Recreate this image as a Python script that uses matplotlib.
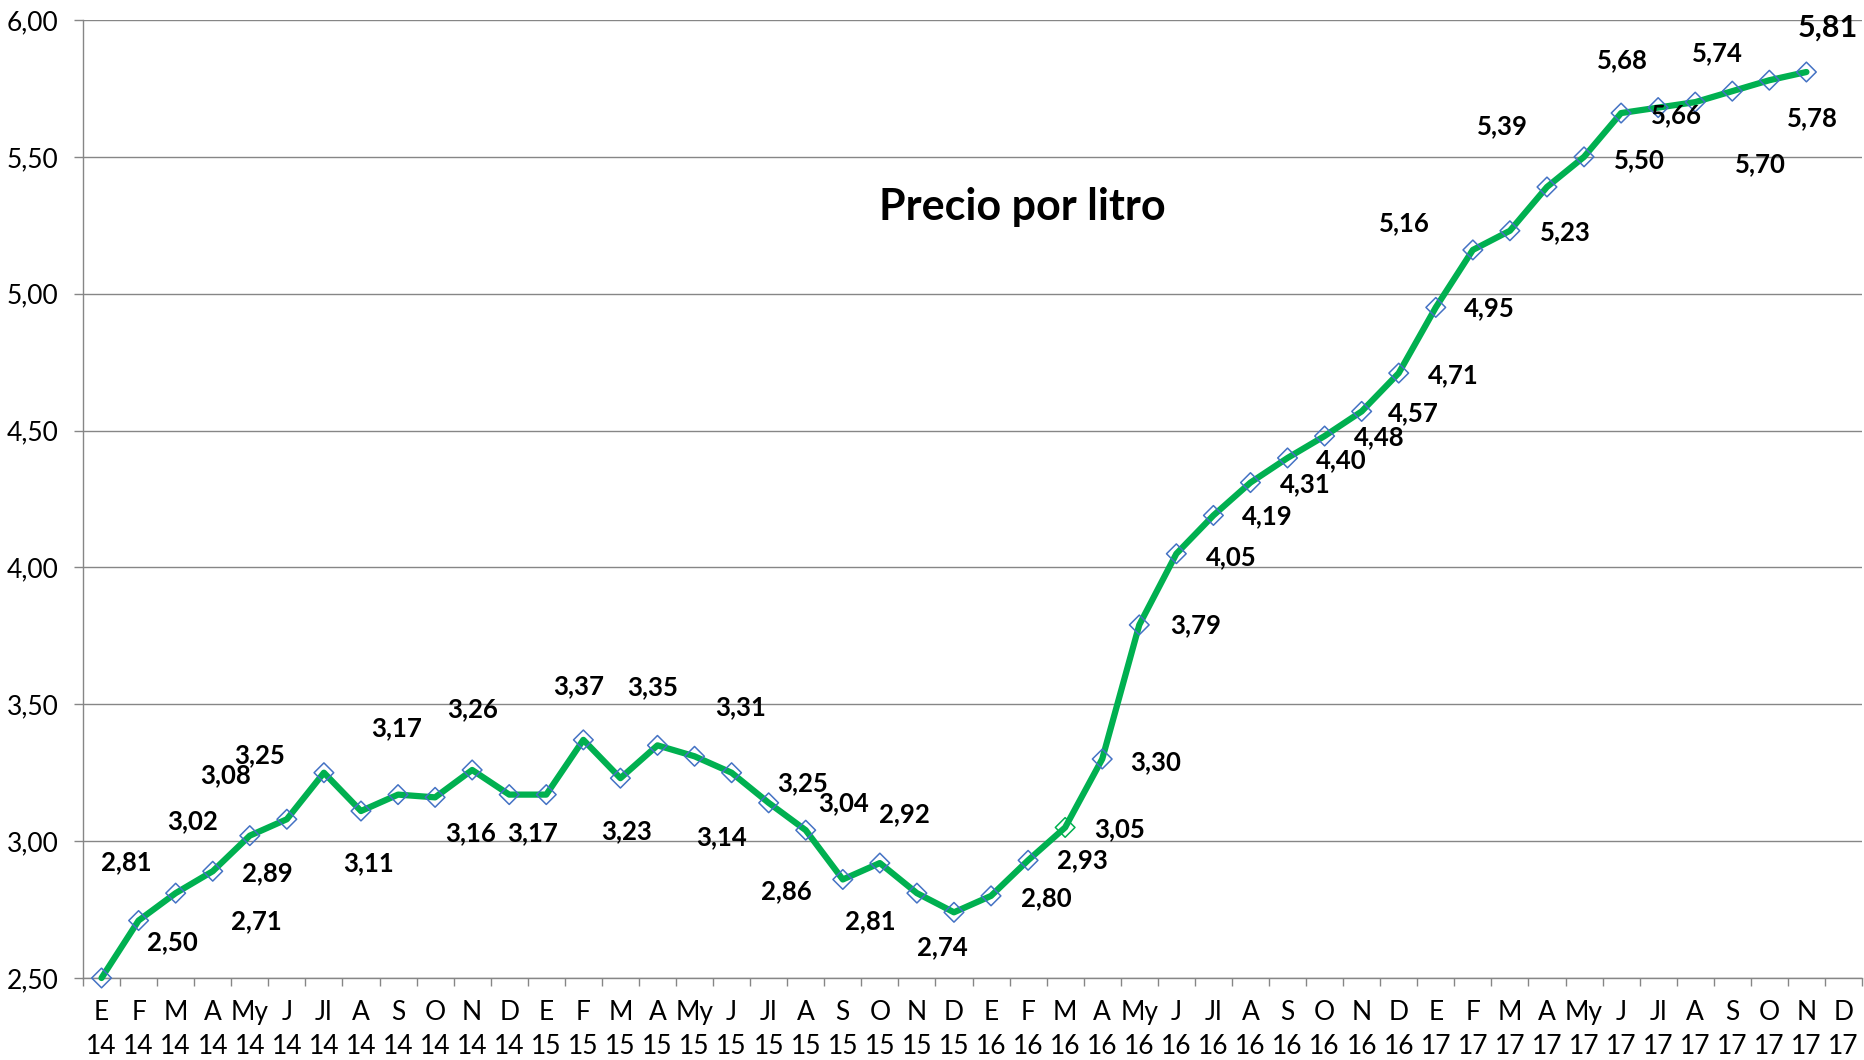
import matplotlib
matplotlib.use('Agg')
import matplotlib.pyplot as plt
import numpy as np

plt.rcParams['font.family'] = ['Lato', 'DejaVu Sans']

# data
months = ['E', 'F', 'M', 'A', 'My', 'J', 'Jl', 'A', 'S', 'O', 'N', 'D']
years = ['14', '15', '16', '17']
precio = [2.50, 2.71, 2.81, 2.89, 3.02, 3.08, 3.25, 3.11, 3.17, 3.16, 3.26, 3.17,
          3.17, 3.37, 3.23, 3.35, 3.31, 3.25, 3.14, 3.04, 2.86, 2.92, 2.81, 2.74,
          2.80, 2.93, 3.05, 3.30, 3.79, 4.05, 4.19, 4.31, 4.40, 4.48, 4.57, 4.71,
          4.95, 5.16, 5.23, 5.39, 5.50, 5.66, 5.68, 5.70, 5.74, 5.78, 5.81]
titulo = 'Precio por litro'

# where each value label sits relative to its point (pixels, y down); None = no label
label_off = [(71, -36), (118, 1), (-49, -31), (55, 2), (-57, -15), (-61, -44),
             (-64, -18), (8, 52), (-1, -66), (36, 36), (0, -61), (23, 39),
             None, (-5, -54), (6, 53), (-5, -58), (46, -49), (71, 10),
             (-47, 34), (38, -27), (-56, 12), (25, -49), (-47, 28), (-12, 35),
             (55, 2), (54, 0), (54, 2), (53, 3), (56, 0), (55, 3),
             (54, 1), (55, 2), (54, 2), (55, 1), (52, 2), (55, 2),
             (54, 1), (-68, -27), (55, 1), (-45, -61), (55, 3), (55, 2),
             (-36, -47), (65, 62), (-15, -38), (43, 38), (21, -44)]

cats = [m + '\n' + y for y in years for m in months]
x = np.arange(len(precio))

fig = plt.figure(figsize=(18.64, 10.60), dpi=100)
ax = fig.add_axes([83/1864, 82/1060, 1779/1864, 958/1060])

grey = '#868686'
ax.set_ylim(2.5, 6.0)
ax.set_xlim(-0.5, len(cats) - 0.5)
ax.set_yticks(np.arange(2.5, 6.01, 0.5))
ax.set_yticklabels([f'{v:.2f}'.replace('.', ',') for v in np.arange(2.5, 6.01, 0.5)])
ax.yaxis.grid(True, color=grey, linewidth=1.0)
ax.set_axisbelow(True)

# boundary ticks on x (major), labels centered (minor)
ax.set_xticks(np.arange(-0.5, len(cats), 1.0))
ax.set_xticklabels([])
ax.set_xticks(np.arange(len(cats)), minor=True)
ax.set_xticklabels(cats, minor=True, fontsize=19, linespacing=1.45)
ax.tick_params(axis='x', which='major', length=6, width=1.0, color=grey)
ax.tick_params(axis='x', which='minor', length=0, pad=16)
ax.tick_params(axis='y', length=6.5, width=1.0, color=grey, labelsize=19, pad=11)

for s in ['top', 'right']:
    ax.spines[s].set_visible(False)
for s in ['left', 'bottom']:
    ax.spines[s].set_color(grey)
    ax.spines[s].set_linewidth(1.0)

ax.plot(x, precio, color='#00B050', linewidth=4.5, zorder=3,
        solid_capstyle='round', clip_on=False)
edge = ['#4472C4'] * len(precio)
edge[26] = '#00B050'
ax.scatter(x, precio, marker='D', s=100, facecolors='none', edgecolors=edge,
           linewidths=1.1, zorder=4, clip_on=False)

for i, v in enumerate(precio):
    off = label_off[i]
    if off is None:
        continue
    big = i == len(precio) - 1
    ax.annotate(f'{v:.2f}'.replace('.', ','), (x[i], v), xytext=(off[0], -off[1]),
                textcoords='offset pixels', ha='center', va='center',
                fontsize=22 if big else 18.5, fontweight='bold', color='black',
                zorder=5)

ax.text(0.528, 0.791, titulo, transform=ax.transAxes, ha='center', va='baseline',
        fontsize=31, fontweight='bold')

fig.savefig('out.png', dpi=100)
